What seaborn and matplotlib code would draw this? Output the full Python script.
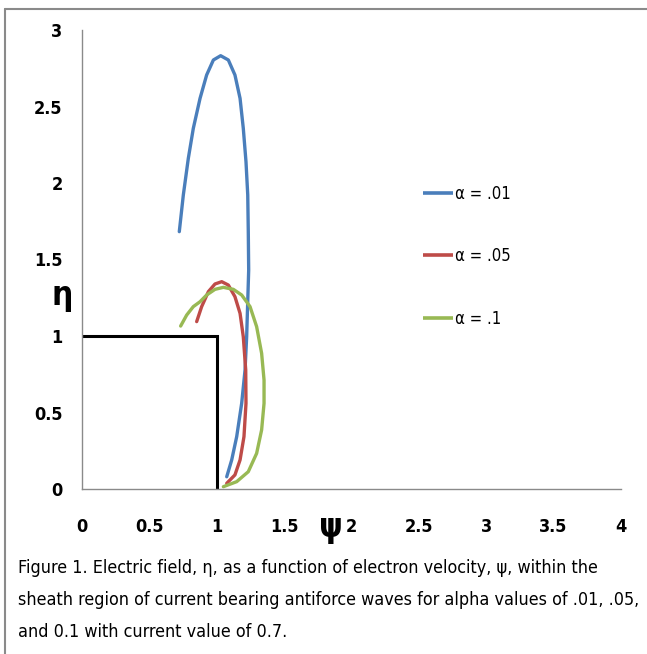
import numpy as np
import pandas as pd
import matplotlib
matplotlib.use("Agg")
import matplotlib.pyplot as plt
import seaborn as sns
from matplotlib.lines import Line2D

# ---- data ----
blue_psi = [0.722, 0.752, 0.789, 0.826, 0.876, 0.925, 0.975, 1.029, 1.086, 1.135,
            1.173, 1.197, 1.217, 1.230, 1.234, 1.237, 1.222, 1.210, 1.185, 1.148,
            1.111, 1.074]
blue_eta = [1.682, 1.922, 2.161, 2.357, 2.553, 2.706, 2.804, 2.832, 2.804, 2.706,
            2.553, 2.357, 2.139, 1.922, 1.682, 1.431, 0.995, 0.778, 0.560, 0.342,
            0.190, 0.080]

red_psi = [0.851, 0.888, 0.938, 0.987, 1.037, 1.086, 1.135, 1.173, 1.197, 1.215,
           1.217, 1.202, 1.173, 1.135, 1.074]
red_eta = [1.094, 1.192, 1.290, 1.340, 1.355, 1.333, 1.257, 1.148, 0.995, 0.778,
           0.560, 0.342, 0.190, 0.092, 0.037]

green_psi = [0.732, 0.777, 0.826, 0.876, 0.925, 0.987, 1.049, 1.123, 1.185, 1.247,
             1.296, 1.333, 1.351, 1.351, 1.333, 1.296, 1.234, 1.148, 1.049]
green_eta = [1.065, 1.137, 1.192, 1.224, 1.268, 1.305, 1.318, 1.305, 1.268, 1.192,
             1.061, 0.887, 0.712, 0.560, 0.386, 0.233, 0.113, 0.048, 0.015]

box_psi = [0, 1, 1]
box_eta = [1, 1, 0]

series_labels = ["\u03b1 = .01", "\u03b1 = .05", "\u03b1 = .1"]
x_ticks = [0, 0.5, 1, 1.5, 2, 2.5, 3, 3.5, 4]
x_tick_labels = ["0", "0.5", "1", "1.5", "2", "2.5", "3", "3.5", "4"]
y_ticks = [0, 0.5, 1, 1.5, 2, 2.5, 3]
y_tick_labels = ["0", "0.5", "1", "1.5", "2", "2.5", "3"]
caption_lines = [
    "Figure 1. Electric field, \u03b7, as a function of electron velocity, \u03c8, within the",
    "sheath region of current bearing antiforce waves for alpha values of .01, .05,",
    "and 0.1 with current value of 0.7.",
]

colors = ["#4a7ebb", "#be4b48", "#98b954"]

sns.set_theme(style="white")
plt.rcParams["font.family"] = ["DejaVu Sans"]
plt.rcParams["font.stretch"] = "condensed"
plt.rcParams["text.color"] = "black"
plt.rcParams["lines.solid_joinstyle"] = "round"
plt.rcParams["lines.solid_capstyle"] = "round"

frames = []
for lab, xs, ys in zip(series_labels, [blue_psi, red_psi, green_psi],
                       [blue_eta, red_eta, green_eta]):
    frames.append(pd.DataFrame({"psi": xs, "eta": ys, "alpha": lab}))
df = pd.concat(frames, ignore_index=True)
box = pd.DataFrame({"psi": box_psi, "eta": box_eta})

fig = plt.figure(figsize=(6.47, 6.54), dpi=100)
ax = fig.add_axes([82 / 647, 1 - 489 / 654, 539 / 647, 459 / 654])

sns.lineplot(data=box, x="psi", y="eta", sort=False, estimator=None,
             color="black", lw=2.2, ax=ax)
ax.lines[-1].set_solid_capstyle("butt")
ax.lines[-1].set_solid_joinstyle("miter")
for lab, c in zip(series_labels, colors):
    sub = df[df["alpha"] == lab]
    sns.lineplot(data=sub, x="psi", y="eta", sort=False, estimator=None,
                 color=c, lw=2.4, ax=ax)

ax.set_xlim(0, 4)
ax.set_ylim(0, 3)
ax.set_xticks(x_ticks)
ax.set_xticklabels(x_tick_labels)
ax.set_yticks(y_ticks)
ax.set_yticklabels(y_tick_labels)
for s in ["top", "right"]:
    ax.spines[s].set_visible(False)
for s in ["left", "bottom"]:
    ax.spines[s].set_color("#8a8a8a")
    ax.spines[s].set_linewidth(1.0)
ax.tick_params(axis="both", which="both", direction="out", length=5,
               width=1.0, color="#8a8a8a", labelsize=13, labelcolor="black")
ax.tick_params(axis="x", pad=16)
ax.tick_params(axis="y", pad=9)
for t in ax.get_xticklabels() + ax.get_yticklabels():
    t.set_fontweight("bold")
    t.set_fontstretch("condensed")
ax.set_xlabel("")
ax.set_ylabel("")

ax.text((331 - 82) / 539, -(528 - 489) / 459, "\u03c8", transform=ax.transAxes,
        ha="center", va="center", fontsize=24, fontweight="bold", color="black")
ax.text((62 - 82) / 539, (489 - 295) / 459, "\u03b7", transform=ax.transAxes,
        ha="center", va="center", fontsize=24, fontweight="bold", color="black")

handles = [Line2D([], [], color=c, lw=2.6, solid_capstyle="butt") for c in colors]
leg = ax.legend(handles, series_labels, loc="upper left",
                bbox_to_anchor=((416 - 82) / 539, (489 - 178) / 459),
                frameon=False, fontsize=12, handlelength=1.8, handletextpad=0.15,
                labelspacing=2.67, borderaxespad=0)
for t in leg.get_texts():
    t.set_color("black")

cap_texts = []
for i, line in enumerate(caption_lines):
    cap_texts.append(fig.text(18 / 647, 1 - (568 + 32 * i) / 654, line, ha="left",
                              va="center", fontsize=15, color="black"))
# fit the first caption line to the reference width (~580 px)
fig.canvas.draw()
r = fig.canvas.get_renderer()
w = cap_texts[0].get_window_extent(r).width
fs = 15 * 580 / w
for t in cap_texts:
    t.set_fontsize(fs)

# outer frame (left and top edges)
fig.add_artist(Line2D([5 / 647, 5 / 647], [0, 1 - 9 / 654], color="#8a8a8a", lw=1.5,
                      transform=fig.transFigure))
fig.add_artist(Line2D([5 / 647, 1], [1 - 9 / 654, 1 - 9 / 654], color="#8a8a8a", lw=1.5,
                      transform=fig.transFigure))

fig.savefig("out.png", dpi=100)
